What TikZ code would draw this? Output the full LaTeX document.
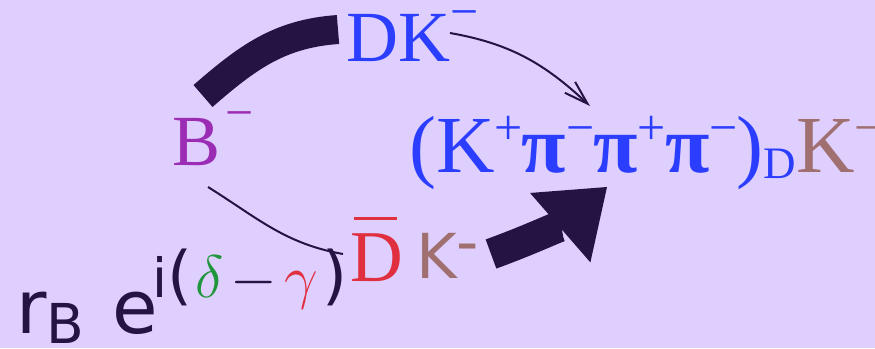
\RequirePackage{fix-cm}
\documentclass[tikz,border=0pt]{standalone}
\usepackage{fontspec}
\setmainfont{Liberation Serif}
\newfontfamily\dvsans{DejaVu Sans}
\usetikzlibrary{arrows.meta}
\definecolor{bgc}{RGB}{223,207,254}
\definecolor{ink}{RGB}{37,20,67}
\definecolor{blu}{RGB}{43,62,255}
\definecolor{brn}{RGB}{160,112,112}
\definecolor{prp}{RGB}{155,45,180}
\definecolor{rd}{RGB}{224,48,64}
\definecolor{grn}{RGB}{32,150,60}
\newcommand\fsz[1]{\fontsize{#1}{#1}\selectfont}
\newcommand\rsup[3]{\raisebox{#1pt}{\fsz{#2}#3}}
\newcommand\bpi{{\bfseries π}}
\newcommand\fsup[1]{\rsup{28}{50}{#1}\hspace{-1pt}}
\begin{document}
\begin{tikzpicture}[x=1pt,y=1pt,
  txt/.style={inner sep=0pt, anchor=base west},
  heavy/.style={line width=29pt, draw=ink},
  heavyarrow/.style={line width=31pt, draw=ink, -{Triangle[length=62pt,width=92pt,line width=0pt]}},
  thinarrow/.style={line width=2pt, draw=ink, -{Straight Barb[length=24pt,width=15pt]}},
  thinline/.style={line width=2pt, draw=ink}]
\fill[bgc] (0,0) rectangle (875,-348);
\useasboundingbox (0,0) rectangle (875,-348);

\node[txt,text=prp] (B) at (172,-165) {\fsz{72}B\hspace{5pt}\rsup{36}{50}{−}};
\node[txt,text=blu] (DK) at (346,-61) {\fsz{72}DK\rsup{33}{50}{−}};
\node[txt,text=blu] (F) at (409,-172) {\fsz{81}(K\fsup{+}\bpi\fsup{−}\bpi\fsup{+}\bpi\fsup{−})\raisebox{-6pt}{\fsz{45}D}\textcolor{brn}{K\rsup{28}{50}{−}}};
\node[txt,text=rd] (Db) at (350,-281) {\fsz{73}\rlap{\hspace{4pt}\rule[61pt]{43pt}{3pt}}D};
\node[txt,text=brn] (Km) at (416,-278) {\dvsans\fsz{62}K\raisebox{15pt}{-}};
\node[txt,text=ink] (R) at (16,-333) {\dvsans\fsz{74}r\raisebox{-10pt}{\fsz{55}B}\hspace{28pt}e\hspace{-5pt}\raisebox{36pt}{\fsz{54}i\fsz{64}(\hspace{3pt}\fsz{60}$\color{grn}\delta\color{ink}\mskip2mu{-}\mskip2mu\color{rd}\gamma$\hspace{5pt}\fsz{64}\color{ink})}};

\coordinate (a1) at (203,-96);
\coordinate (a2) at (338,-29.5);
\coordinate (b1) at (450,-33);
\coordinate (b2) at (590,-106);
\coordinate (c1) at (208,-187);
\coordinate (c2) at (343,-254);
\coordinate (e1) at (491,-254);
\coordinate (e2) at (607,-187);

\draw[heavy] (a1) to[out=41,in=184] (a2);
\draw[thinarrow] (b1) to[out=-10,in=137] (b2);
\draw[thinline] (c1) to[out=-32,in=170] (c2);
\draw[heavyarrow] (e1) to[out=20,in=221] (e2);
\end{tikzpicture}
\end{document}
